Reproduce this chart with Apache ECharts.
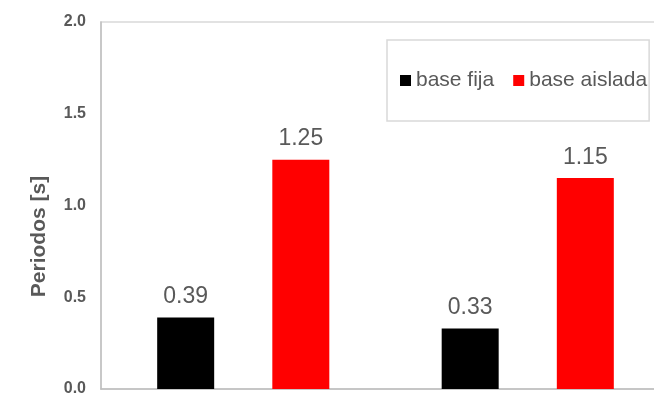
<!DOCTYPE html>
<html><head><meta charset="utf-8">
<script src="https://cdn.jsdelivr.net/npm/echarts@6/dist/echarts.min.js"></script>
<style>html,body{margin:0;padding:0;background:#fff;overflow:hidden}#c{width:654px;height:400px}</style>
</head><body><div id="c"></div>
<script>
const categories = ["A", "B"];
const seriesNames = ["base fija", "base aislada"];
const baseFija = [0.39, 0.33];
const baseAislada = [1.25, 1.15];
const yTicks = [0.0, 0.5, 1.0, 1.5, 2.0];

const chart = echarts.init(document.getElementById('c'), null, {renderer: 'canvas'});
const FONT = 'Arial, Liberation Sans';
const lbl = {show: true, position: 'top', distance: 9, color: '#595959', fontSize: 23, fontFamily: FONT, formatter: p => p.value.toFixed(2)};
chart.setOption({
  animation: false,
  grid: {left: 101, top: 22, width: 569, bottom: 11, show: true, borderColor: '#d9d9d9', borderWidth: 1.5, outerBoundsMode: 'none', containLabel: false},
  legend: {
    data: seriesNames, left: 387, top: 40, orient: 'horizontal',
    padding: [30, 2, 30, 13], borderColor: '#d9d9d9', borderWidth: 1.5,
    itemWidth: 11, itemHeight: 11, itemGap: 19, icon: 'rect',
    textStyle: {color: '#595959', fontSize: 21, fontFamily: FONT}
  },
  xAxis: {type: 'category', data: categories, axisTick: {show: false}, axisLabel: {show: false},
    axisLine: {lineStyle: {color: '#bfbfbf', width: 1.5}}},
  yAxis: {type: 'value', min: yTicks[0], max: yTicks[yTicks.length-1], interval: 0.5,
    name: 'Periodos [s]', nameLocation: 'middle', nameGap: 51, nameRotate: 90,
    nameTextStyle: {color: '#595959', fontSize: 21, fontWeight: 'bold', fontFamily: FONT, padding: [0, 62, 0, 0]},
    axisLine: {show: true, lineStyle: {color: '#bfbfbf', width: 1.5}}, axisTick: {show: false},
    splitLine: {show: false},
    axisLabel: {color: '#595959', fontSize: 16, fontWeight: 'bold', margin: 15, fontFamily: FONT, formatter: v => v.toFixed(1)}},
  series: [
    {name: seriesNames[0], type: 'bar', data: baseFija, barWidth: 57, barGap: '102%', itemStyle: {color: '#000000'}, label: lbl},
    {name: seriesNames[1], type: 'bar', data: baseAislada, barWidth: 57, itemStyle: {color: '#ff0000'}, label: lbl}
  ]
});
</script></body></html>
